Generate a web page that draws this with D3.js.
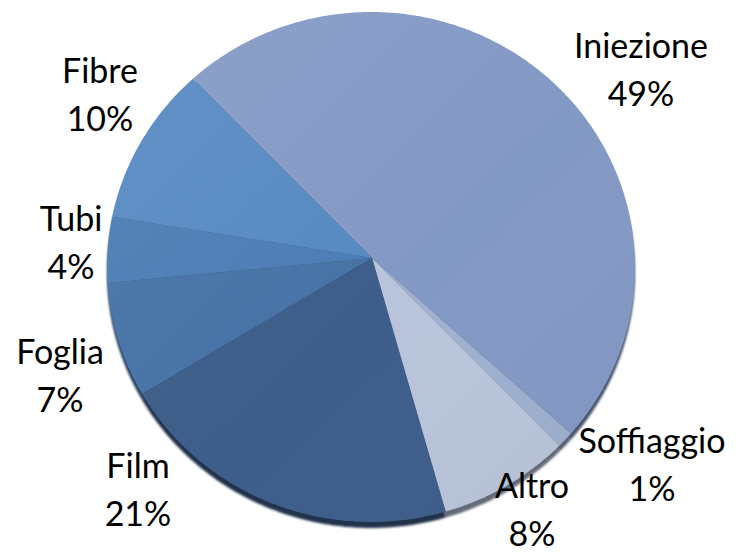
<!DOCTYPE html>
<html>
<head>
<meta charset="utf-8">
<script src="https://cdn.jsdelivr.net/npm/d3@7"></script>
<style>
  body { margin: 0; background: #fff; }
  text { font-family: Lato, "Open Sans", sans-serif; fill: #000; }
</style>
</head>
<body>
<div id="chart"></div>
<script>
// Slices, clockwise from the Fibre/Iniezione border.
const categories = ["Iniezione", "Soffiaggio", "Altro", "Film", "Foglia", "Tubi", "Fibre"];
const shares = [49, 1, 8, 21, 7, 4, 10];

// Colours per slice (same order).
const sliceColors = ["#8399c5", "#9fb0d0", "#b9c4da", "#3d5d8a", "#4672a6", "#4b7cb4", "#5689c2"];

// Label anchors (centre x, baseline of first line).
const labelPos = [[641, 58], [652, 453], [532, 498], [138, 478], [60, 364], [71, 231], [100, 83]];

let width = 740,
    height = 552;

// The pie face is a slightly squashed ellipse seen in perspective:
// the slices meet above the ellipse centre.
let face = { cx: 371, cy: 267, rx: 264, ry: 255 },
    apex = { x: 372, y: 258 },
    depth = 6;

let svg = d3.select("#chart").append("svg")
    .attr("width", width)
    .attr("height", height);

let defs = svg.append("defs");
defs.append("filter").attr("id", "soft")
    .append("feGaussianBlur").attr("stdDeviation", 1.2);

let shine = defs.append("linearGradient").attr("id", "shine")
    .attr("x1", "0").attr("y1", "0").attr("x2", "1").attr("y2", "1");
shine.append("stop").attr("offset", "0%").attr("stop-color", "#fff").attr("stop-opacity", 0.08);
shine.append("stop").attr("offset", "55%").attr("stop-color", "#fff").attr("stop-opacity", 0);
shine.append("stop").attr("offset", "100%").attr("stop-color", "#000").attr("stop-opacity", 0.05);

let start = -45 * Math.PI / 180;
let pie = d3.pie()
    .sort(null)
    .startAngle(start)
    .endAngle(start + 2 * Math.PI);

let arcs = pie(shares);

// Point where a ray from the apex at angle a (clockwise from up) meets the ellipse.
function rim(a) {
    let dx = Math.sin(a), dy = -Math.cos(a);
    let ux = apex.x - face.cx, uy = apex.y - face.cy;
    let A = (dx * dx) / (face.rx * face.rx) + (dy * dy) / (face.ry * face.ry);
    let B = 2 * ((ux * dx) / (face.rx * face.rx) + (uy * dy) / (face.ry * face.ry));
    let C = (ux * ux) / (face.rx * face.rx) + (uy * uy) / (face.ry * face.ry) - 1;
    let t = (-B + Math.sqrt(B * B - 4 * A * C)) / (2 * A);
    return [apex.x + t * dx, apex.y + t * dy];
}

function slicePath(d) {
    let n = Math.max(2, Math.ceil((d.endAngle - d.startAngle) / 0.01));
    let pts = [[apex.x, apex.y]];
    for (let i = 0; i <= n; i++) {
        pts.push(rim(d.startAngle + (d.endAngle - d.startAngle) * i / n));
    }
    return d3.line()(pts) + "Z";
}

// Side of the pie: the same slices pushed down, darker.
svg.append("g")
    .attr("transform", "translate(0," + depth + ")")
    .attr("filter", "url(#soft)")
    .selectAll("path")
    .data(arcs)
    .enter().append("path")
    .attr("d", slicePath)
    .attr("fill", (d, i) => d3.color(sliceColors[i]).darker(1.7));

// Faces.
svg.append("g")
    .selectAll("path")
    .data(arcs)
    .enter().append("path")
    .attr("d", slicePath)
    .attr("fill", (d, i) => sliceColors[i]);

svg.append("ellipse")
    .attr("cx", face.cx).attr("cy", face.cy)
    .attr("rx", face.rx).attr("ry", face.ry)
    .attr("fill", "url(#shine)");

// Labels: name and percentage on two lines.
let labels = svg.append("g")
    .selectAll("text")
    .data(arcs)
    .enter().append("text")
    .attr("text-anchor", "middle")
    .style("font-size", "34px");

labels.append("tspan")
    .attr("x", (d, i) => labelPos[i][0])
    .attr("y", (d, i) => labelPos[i][1])
    .text((d, i) => categories[i]);

labels.append("tspan")
    .attr("x", (d, i) => labelPos[i][0])
    .attr("y", (d, i) => labelPos[i][1] + 48)
    .text(d => d.data + "%");
</script>
</body>
</html>
